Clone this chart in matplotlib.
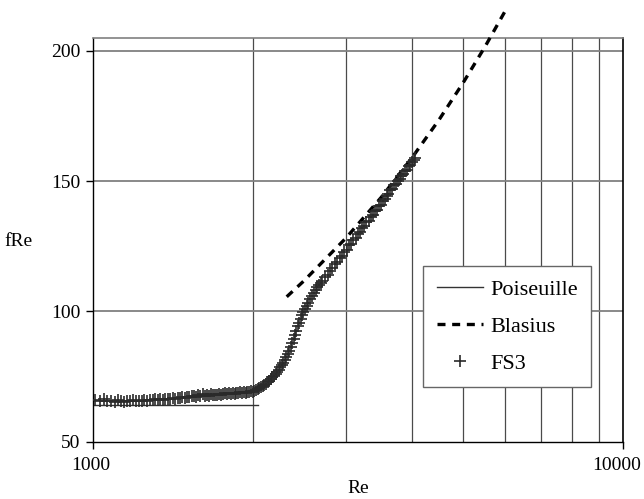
import matplotlib
matplotlib.use("Agg")
import matplotlib.pyplot as plt
import matplotlib.transforms as mtransforms
from matplotlib.ticker import FixedLocator, NullLocator, FixedFormatter

plt.rcParams['font.family'] = ['Liberation Serif', 'DejaVu Serif']

# Poiseuille laminar line
pois_re = [1000, 2050]
pois_f = [64, 64]

# Blasius correlation
blas_re = [2320, 2500, 3000, 3500, 4000, 4500, 5000, 5500, 6000]
blas_f = [105.6, 111.7, 128.1, 143.8, 159.0, 173.6, 187.9, 201.8, 215.4]

# FS3 measurements
fs3_re = [1010, 1030, 1050, 1065, 1080, 1100, 1115, 1130, 1145, 1160, 1175, 1190,
          1205, 1220, 1235, 1250, 1265, 1280, 1295, 1310, 1325, 1340, 1355, 1370,
          1385, 1400, 1415, 1430, 1445, 1460, 1475, 1490, 1505, 1520, 1535, 1550,
          1565, 1580, 1595, 1610, 1625, 1640, 1655, 1670, 1685, 1700, 1715, 1730,
          1745, 1760, 1775, 1790, 1805, 1820, 1835, 1850, 1865, 1880, 1895, 1910,
          1925, 1940, 1955, 1970, 1985, 2000,
          2015, 2030, 2045, 2060, 2075, 2090, 2105, 2120, 2135, 2150, 2165, 2180,
          2195, 2210, 2225, 2240, 2255, 2270, 2285, 2300, 2315, 2330, 2345, 2360,
          2375, 2390, 2405, 2420, 2435, 2450, 2465, 2480, 2495, 2510, 2530, 2550,
          2570, 2590, 2610, 2630, 2650, 2670, 2690,
          2710, 2740, 2770, 2800, 2830, 2860, 2890, 2920, 2950, 2980, 3010, 3040,
          3070, 3100, 3130, 3160, 3190, 3220, 3250, 3280, 3310, 3340, 3370, 3400,
          3430, 3460, 3490, 3520, 3550, 3580, 3610, 3640, 3670, 3700, 3730, 3760,
          3790, 3820, 3850, 3880, 3910, 3940, 3970, 4000, 4030, 4055]
fs3_f = [66.0, 65.5, 66.2, 65.6, 65.8, 65.4, 65.9, 65.6, 65.3, 65.8, 65.5, 65.9,
         65.6, 65.8, 65.7, 66.0, 65.8, 66.1, 65.9, 66.2, 66.0, 66.3, 66.1, 66.4,
         66.2, 66.5, 66.6, 66.4, 66.8, 66.6, 67.0, 66.8, 67.2, 67.0, 67.4, 67.6,
         67.3, 67.8, 67.5, 68.2, 67.6, 68.0, 67.7, 68.3, 67.9, 68.1, 67.8, 68.4,
         68.0, 68.2, 68.6, 68.3, 68.5, 68.2, 68.7, 68.4, 68.8, 68.6, 68.9, 68.7,
         69.0, 68.8, 69.2, 69.0, 69.3, 69.2,
         69.6, 69.9, 70.3, 70.5, 70.9, 71.2, 71.7, 72.2, 72.8, 73.4, 74.0, 74.7,
         75.3, 76.0, 76.8, 77.6, 78.5, 79.4, 80.3, 81.3, 82.4, 83.6, 84.9, 86.3,
         87.7, 89.3, 90.9, 92.6, 94.2, 95.7, 97.1, 98.5, 99.7, 100.8, 102.1, 103.4,
         104.6, 105.8, 107.0, 108.1, 109.2, 110.1, 110.9,
         111.6, 113.1, 114.0, 115.6, 116.5, 118.1, 119.0, 120.5, 121.3, 122.9, 123.7, 125.3,
         126.0, 127.5, 128.3, 129.8, 130.5, 132.0, 132.7, 134.3, 134.8, 136.4, 136.9, 138.5,
         139.0, 140.4, 141.0, 142.4, 143.0, 144.4, 145.0, 146.4, 146.9, 148.3, 148.8, 150.2,
         150.7, 152.0, 152.6, 153.9, 154.4, 155.7, 156.2, 157.4, 158.0, 158.8]

fig = plt.figure(figsize=(6.44, 4.99), dpi=100)
ax = fig.add_axes([93/644, 1 - 441.7/499, (623 - 93)/644, (441.7 - 37.7)/499])

ax.set_xscale('log')
ax.set_xlim(1000, 10000)
ax.set_ylim(50, 205)

# grid
for xv in [2000, 3000, 4000, 5000, 6000, 7000, 8000, 9000]:
    ax.axvline(xv, color='#4a4a4a', lw=0.9, zorder=0)
for yv in [100, 150, 200]:
    ax.axhline(yv, color='#808080', lw=1.3, zorder=0)

ax.plot(pois_re, pois_f, color='#333333', lw=1.0, label='Poiseuille', zorder=2)
ax.plot(blas_re, blas_f, color='black', lw=2.4, ls=(0, (2.4, 2.0)),
        label='Blasius', clip_on=False, zorder=3)
ax.plot(fs3_re, fs3_f, ls='none', marker='+', ms=8, mew=1.2, color='#2a2a2a',
        label='FS3', zorder=4)

ax.xaxis.set_major_locator(FixedLocator([1000, 10000]))
ax.xaxis.set_major_formatter(FixedFormatter(['1000', '10000']))
ax.xaxis.set_minor_locator(NullLocator())
ax.set_yticks([50, 100, 150, 200])
ax.tick_params(axis='both', direction='out', length=5, width=1, labelsize=14, pad=4)
ax.tick_params(axis='x', pad=6)

# nudge the right-most x tick label inward so it stays inside the figure
fig.canvas.draw()
xlabels = ax.get_xticklabels()
shift = mtransforms.ScaledTranslation(-6/100, 0, fig.dpi_scale_trans)
xlabels[-1].set_transform(xlabels[-1].get_transform() + shift)
shift0 = mtransforms.ScaledTranslation(-2/100, 0, fig.dpi_scale_trans)
xlabels[0].set_transform(xlabels[0].get_transform() + shift0)

for s in ['top', 'right']:
    ax.spines[s].set_color('#808080')
    ax.spines[s].set_linewidth(1.2)
for s in ['left', 'bottom']:
    ax.spines[s].set_color('black')
    ax.spines[s].set_linewidth(1.0)
ax.spines['right'].set_color('black')

ax.set_xlabel('Re', fontsize=14, labelpad=4)
fig.text(18/644, 1 - 242/499, 'fRe', fontsize=14, ha='center', va='center')

leg = ax.legend(loc='upper right', bbox_to_anchor=(591/644, 1 - 265.7/499),
                bbox_transform=fig.transFigure, borderaxespad=0,
                fontsize=16, frameon=True, fancybox=False, framealpha=1,
                edgecolor='#666666', handlelength=2.1, handletextpad=0.3,
                labelspacing=0.75, borderpad=0.6)
leg.get_frame().set_linewidth(1.0)

fig.savefig('out.png', dpi=100)
